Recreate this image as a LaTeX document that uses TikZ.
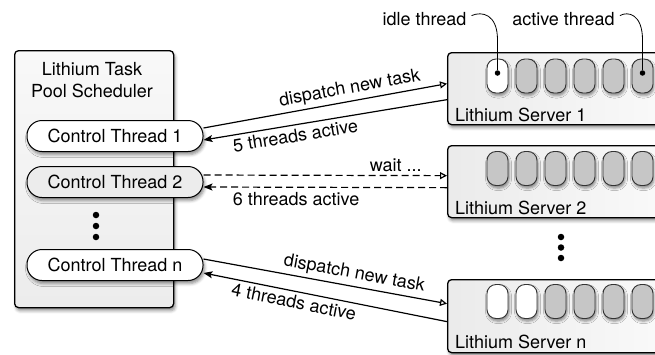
\documentclass[tikz,border=0pt]{standalone}
\usepackage{fontspec}
\setmainfont{TeX Gyre Heros}
\usetikzlibrary{arrows.meta,shadows.blur,calc}
\begin{document}
\begin{tikzpicture}[x=1pt,y=-1pt,
  font=\fontsize{18}{22}\selectfont,
  shad/.style={blur shadow={shadow xshift=1.5pt, shadow yshift=-3pt, shadow blur radius=3pt, shadow opacity=45}},
  panel/.style={draw=black, line width=1.3pt, rounded corners=4pt, top color=gray!5, bottom color=gray!15, shad, inner sep=0, anchor=north west},
  server/.style={draw=black, line width=1.3pt, rounded corners=4pt, left color=gray!16, right color=gray!4, shad, inner sep=0, anchor=north west, minimum width=220pt},
  ctl/.style={draw=black, line width=1pt, rounded corners=15pt, minimum width=176pt, minimum height=31pt, inner sep=0, shad},
  pill/.style={draw=black!80, line width=0.9pt, rounded corners=9pt, minimum width=21pt, minimum height=34pt, inner sep=0, blur shadow={shadow xshift=1pt, shadow yshift=-2.5pt, shadow blur radius=2.5pt, shadow opacity=45}},
  bigdot/.style={circle, fill=black, inner sep=0, minimum size=6.5pt},
  smalldot/.style={circle, fill=black, inner sep=0, minimum size=5.5pt},
  lbl/.style={inner sep=0},
  fwd/.style={-{Triangle[open,length=7pt,width=7pt]}, line width=1.2pt},
  ret/.style={-{Stealth[length=9pt,width=7pt,inset=2pt]}, line width=1.2pt},
  dsh/.style={dash pattern=on 7pt off 4pt},
  callout/.style={line width=0.8pt}
]
\path[use as bounding box, clip] (0,0) rectangle (655,354);

% scheduler panel
\node[panel, minimum width=159pt, minimum height=257pt] (sched) at (14,50) {};
\node[align=center, inner sep=0] (title) at (92,80) {Lithium Task\\Pool Scheduler};
\node[ctl, fill=white] (ct1) at (115,136) {Control Thread 1};
\node[ctl, fill=gray!15] (ct2) at (115,182) {Control Thread 2};
\node[ctl, fill=white] (ctn) at (115,265) {Control Thread n};
\node[bigdot] (ld1) at (96,215) {};
\node[bigdot] (ld2) at (96,226) {};
\node[bigdot] (ld3) at (96,237) {};

% servers
\node[server, minimum height=72pt] (s1) at (447,52) {};
\node[server, minimum height=72pt] (s2) at (447,145) {};
\node[server, minimum height=73pt] (sn) at (447,279) {};

\foreach \i in {0,...,5} {
  \pgfmathsetmacro{\px}{497.5+29*\i}
  \ifnum\i=0 \def\fc{white}\else\def\fc{gray!45}\fi
  \node[pill, fill=\fc] (pa\i) at (\px,76) {};
  \node[pill, fill=gray!45] (pb\i) at (\px,168.5) {};
  \ifnum\i<2 \def\fc{white}\else\def\fc{gray!45}\fi
  \node[pill, fill=\fc] (pc\i) at (\px,301.5) {};
}
\node[smalldot] (dA) at (497.5,73) {};
\node[smalldot] (dB) at (642.5,73) {};

\node[lbl, anchor=base west] (l1) at (455,121) {Lithium Server 1};
\node[lbl, anchor=base west] (l2) at (455,214) {Lithium Server 2};
\node[lbl, anchor=base west] (ln) at (455,348) {Lithium Server n};

\node[bigdot] (rd1) at (561,237) {};
\node[bigdot] (rd2) at (561,247.5) {};
\node[bigdot] (rd3) at (561,258) {};

% callouts
\node[lbl, anchor=base] (idle) at (424.5,25) {idle thread};
\node[lbl, anchor=base] (act) at (563.5,25) {active thread};
\draw[callout] ($(idle.east)+(5,-3)$) .. controls (482,11) and (497.5,14) .. (497.5,40) -- (dA);
\draw[callout] ($(act.east)+(5,-3)$) .. controls (628,11) and (642.5,14) .. (642.5,40) -- (dB);

% connectors
\draw[fwd] ($(ct1.east)+(0,-8)$) -- node[sloped, above, pos=0.61] {dispatch new task} ($(s1.west)+(0,-5)$);
\draw[ret] ($(s1.west)+(0,11)$) -- node[sloped, below, pos=0.63] {5 threads active} ($(ct1.east)+(0,4)$);

\draw[fwd, dsh] ($(ct2.east)+(0,-7)$) -- node[above, pos=0.79] {wait ...} ($(s2.west)+(0,-6)$);
\draw[ret, dsh] ($(s2.west)+(0,6)$) -- node[below=1.5pt, pos=0.62] {6 threads active} ($(ct2.east)+(0,5)$);

\draw[fwd] ($(ctn.east)+(0,-6)$) -- node[sloped, above, pos=0.61] {dispatch new task} ($(sn.west)+(0,-12.5)$);
\draw[ret] ($(sn.west)+(0,5.5)$) -- node[sloped, below, pos=0.62] {4 threads active} ($(ctn.east)+(0,8)$);
\end{tikzpicture}
\end{document}
